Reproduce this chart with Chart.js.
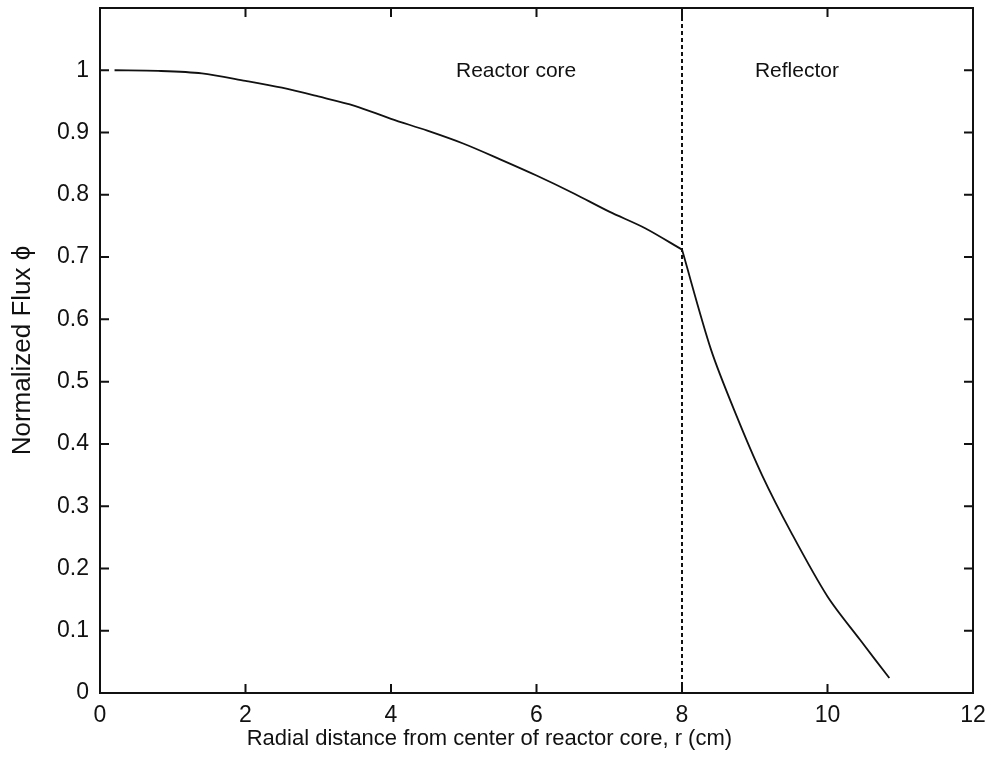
<!DOCTYPE html>
<html>
<head>
<meta charset="utf-8">
<script src="https://cdn.jsdelivr.net/npm/chart.js@4"></script>
<style>
  html, body { margin: 0; padding: 0; background: #fff; }
  #box { width: 989px; height: 767px; }
</style>
</head>
<body>
<div id="box"><canvas id="grafico"></canvas></div>
<script>
// valores
const rCore = [0.2, 0.8, 1.4, 2.0, 2.5, 3.0, 3.5, 4.0, 4.5, 5.0, 5.5, 6.0, 6.5, 7.0, 7.5, 8.0];
const fluxCore = [1.0, 0.999, 0.995, 0.983, 0.972, 0.958, 0.943, 0.922, 0.903, 0.882, 0.857, 0.831, 0.803, 0.773, 0.746, 0.712];
const rRefl = [8.0, 8.4, 8.75, 9.1, 9.5, 10.0, 10.45, 10.85];
const fluxRefl = [0.712, 0.551, 0.445, 0.350, 0.258, 0.155, 0.085, 0.024];
const interfaceR = 8;
const xTicks = [0, 2, 4, 6, 8, 10, 12];
const yTicks = [0, 0.1, 0.2, 0.3, 0.4, 0.5, 0.6, 0.7, 0.8, 0.9, 1];
const regionLabels = [
  { text: 'Reactor core', x: 5.72, y: 0.999 },
  { text: 'Reflector', x: 9.58, y: 0.999 }
];
const xTitulo = 'Radial distance from center of reactor core, r (cm)';
const yTitulo = 'Normalized Flux \u03D5';

const fonte = '"Liberation Sans", Arial, sans-serif';

// desenha caixa, marcas internas e textos
const molduraPlugin = {
  id: 'moldura',
  afterDraw(chart) {
    const ctx = chart.ctx;
    const a = chart.chartArea;
    const sx = chart.scales.x, sy = chart.scales.y;
    ctx.save();
    ctx.strokeStyle = '#111';
    ctx.lineWidth = 2;
    ctx.strokeRect(a.left, a.top, a.right - a.left, a.bottom - a.top);
    ctx.beginPath();
    xTicks.forEach(v => {
      const px = sx.getPixelForValue(v);
      ctx.moveTo(px, a.bottom); ctx.lineTo(px, a.bottom - 9);
      ctx.moveTo(px, a.top); ctx.lineTo(px, a.top + 9);
    });
    yTicks.forEach(v => {
      const py = sy.getPixelForValue(v);
      ctx.moveTo(a.left, py); ctx.lineTo(a.left + 9, py);
      ctx.moveTo(a.right, py); ctx.lineTo(a.right - 9, py);
    });
    ctx.stroke();
    ctx.fillStyle = '#111';
    ctx.font = '21px ' + fonte;
    ctx.textAlign = 'center';
    ctx.textBaseline = 'middle';
    regionLabels.forEach(l => {
      ctx.fillText(l.text, sx.getPixelForValue(l.x), sy.getPixelForValue(l.y));
    });
    // título do eixo x (no original fica deslocado para a esquerda)
    ctx.font = '22px ' + fonte;
    ctx.textBaseline = 'alphabetic';
    ctx.fillText(xTitulo, a.left + (a.right - a.left) * 0.446, a.bottom + 52);
    ctx.restore();
  }
};

new Chart(document.getElementById('grafico'), {
  type: 'scatter',
  data: {
    datasets: [
      {
        data: rCore.map((r, i) => ({ x: r, y: fluxCore[i] })),
        showLine: true, borderColor: '#111', borderWidth: 1.8, pointRadius: 0, tension: 0.3
      },
      {
        data: rRefl.map((r, i) => ({ x: r, y: fluxRefl[i] })),
        showLine: true, borderColor: '#111', borderWidth: 1.8, pointRadius: 0, tension: 0.3
      },
      {
        data: [{ x: interfaceR, y: 0 }, { x: interfaceR, y: 1.1 }],
        showLine: true, borderColor: '#111', borderWidth: 2, borderDash: [4, 3], pointRadius: 0
      }
    ]
  },
  options: {
    responsive: true,
    maintainAspectRatio: false,
    animation: false,
    layout: { padding: { top: 8, right: 16, left: 0, bottom: 0 } },
    plugins: { legend: { display: false }, tooltip: { enabled: false } },
    scales: {
      x: {
        type: 'linear', min: 0, max: 12,
        afterBuildTicks: s => { s.ticks = xTicks.map(v => ({ value: v })); },
        afterFit: s => { s.height = 74; s.paddingLeft = 0; s.paddingRight = 0; },
        grid: { display: false, drawTicks: false },
        border: { display: false },
        ticks: { color: '#111', font: { family: fonte, size: 23 }, padding: 9, maxRotation: 0, callback: v => String(v) },
        title: { display: false }
      },
      y: {
        type: 'linear', min: 0, max: 1.1,
        afterBuildTicks: s => { s.ticks = yTicks.map(v => ({ value: v })); },
        afterFit: s => { s.width = 100; s.paddingTop = 0; s.paddingBottom = 0; },
        grid: { display: false, drawTicks: false },
        border: { display: false },
        ticks: { color: '#111', font: { family: fonte, size: 23 }, padding: 11, callback: v => String(v) },
        title: { display: true, text: yTitulo, color: '#111', font: { family: fonte, size: 26 }, padding: { top: 7, bottom: 0 } }
      }
    }
  },
  plugins: [molduraPlugin]
});
</script>
</body>
</html>
